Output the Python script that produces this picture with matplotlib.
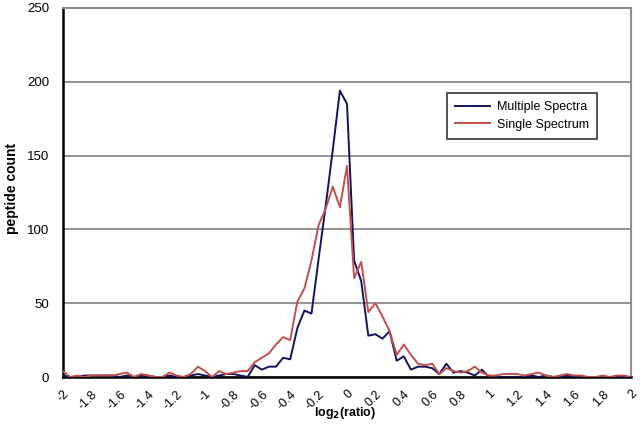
import numpy as np
import matplotlib
matplotlib.use("Agg")
import matplotlib.pyplot as plt

plt.rcParams['font.family'] = ['Liberation Sans', 'DejaVu Sans']

# log2(ratio) bins, step 0.05
log_ratio = np.round(np.arange(-2.0, 2.0001, 0.05), 2)

multiple_spectra = [
    1, 0, 0, 1, 1, 1, 1, 1, 0, 1,
    0, 1, 1, 0, 0, 1, 0, 0, 1, 2,
    1, 0, 1, 2, 2, 1, 0, 8, 5, 7,
    7, 13, 12, 33, 45, 43, 80, 116, 154, 194,
    185, 79, 65, 28, 29, 26, 31, 11, 14, 5,
    7, 7, 6, 2, 9, 3, 4, 3, 1, 5,
    0, 0, 0, 0, 0, 0, 1, 0, 1, 0,
    0, 1, 0, 0, 0, 0, 0, 0, 0, 0,
    0,
]
single_spectrum = [
    4, 0, 1, 0, 1, 1, 1, 1, 2, 3,
    0, 2, 1, 0, 0, 3, 1, 0, 2, 7,
    4, 0, 4, 2, 3, 4, 4, 10, 13, 16,
    22, 27, 25, 51, 60, 79, 103, 114, 129, 115,
    143, 67, 78, 44, 50, 41, 31, 15, 22, 15,
    9, 8, 9, 2, 6, 4, 3, 4, 7, 3,
    1, 1, 2, 2, 2, 1, 2, 3, 1, 0,
    1, 2, 1, 1, 0, 0, 1, 0, 1, 1,
    0,
]

x_ticks = np.round(np.arange(-2.0, 2.0001, 0.2), 1)
x_tick_labels = ['-2', '-1.8', '-1.6', '-1.4', '-1.2', '-1', '-0.8', '-0.6', '-0.4', '-0.2',
                 '0', '0.2', '0.4', '0.6', '0.8', '1', '1.2', '1.4', '1.6', '1.8', '2']
y_ticks = [0, 50, 100, 150, 200, 250]

fig = plt.figure(figsize=(6.4, 4.28), dpi=100)
ax = fig.add_axes([63 / 640, 1 - 377 / 428, 568 / 640, 369 / 428])

ax.plot(log_ratio, multiple_spectra, color='#14145a', lw=1.4, label='Multiple Spectra', zorder=3)
ax.plot(log_ratio, single_spectrum, color='#c0504d', lw=1.4, label='Single Spectrum', zorder=3)

ax.set_xlim(-2, 2)
ax.set_ylim(0, 250)
ax.set_xticks(x_ticks)
ax.set_xticklabels(x_tick_labels, rotation=45, ha='right', rotation_mode='anchor', fontsize=9)
ax.set_yticks(y_ticks)
ax.tick_params(axis='y', length=0, pad=10, labelsize=9.5)
ax.tick_params(axis='x', length=0, pad=8)

ax.yaxis.grid(True, color='#808080', lw=1.2)
ax.set_axisbelow(True)

for side in ['left', 'bottom']:
    ax.spines[side].set_color('black')
    ax.spines[side].set_linewidth(1.8)
for side in ['top', 'right']:
    ax.spines[side].set_color('#909090')
    ax.spines[side].set_linewidth(1.5)

ax.set_ylabel('peptide count', fontsize=10, fontweight='bold')
ax.yaxis.set_label_coords(-0.09, 0.51)
ax.set_xlabel('log$_{\\mathbf{2}}$(ratio)', fontsize=9, fontweight='bold')
ax.xaxis.set_label_coords(0.496, -0.097)
ax.xaxis.label.set_va('center')
ax.yaxis.label.set_va('center')

leg = ax.legend(loc='upper left', bbox_to_anchor=(0.676, 0.7696), borderaxespad=0, fontsize=9,
                frameon=True, fancybox=False, edgecolor='black', borderpad=0.65,
                handlelength=2.8, handletextpad=0.55, labelspacing=0.45)
leg.get_frame().set_linewidth(1.2)

fig.savefig('out.png', dpi=100)
